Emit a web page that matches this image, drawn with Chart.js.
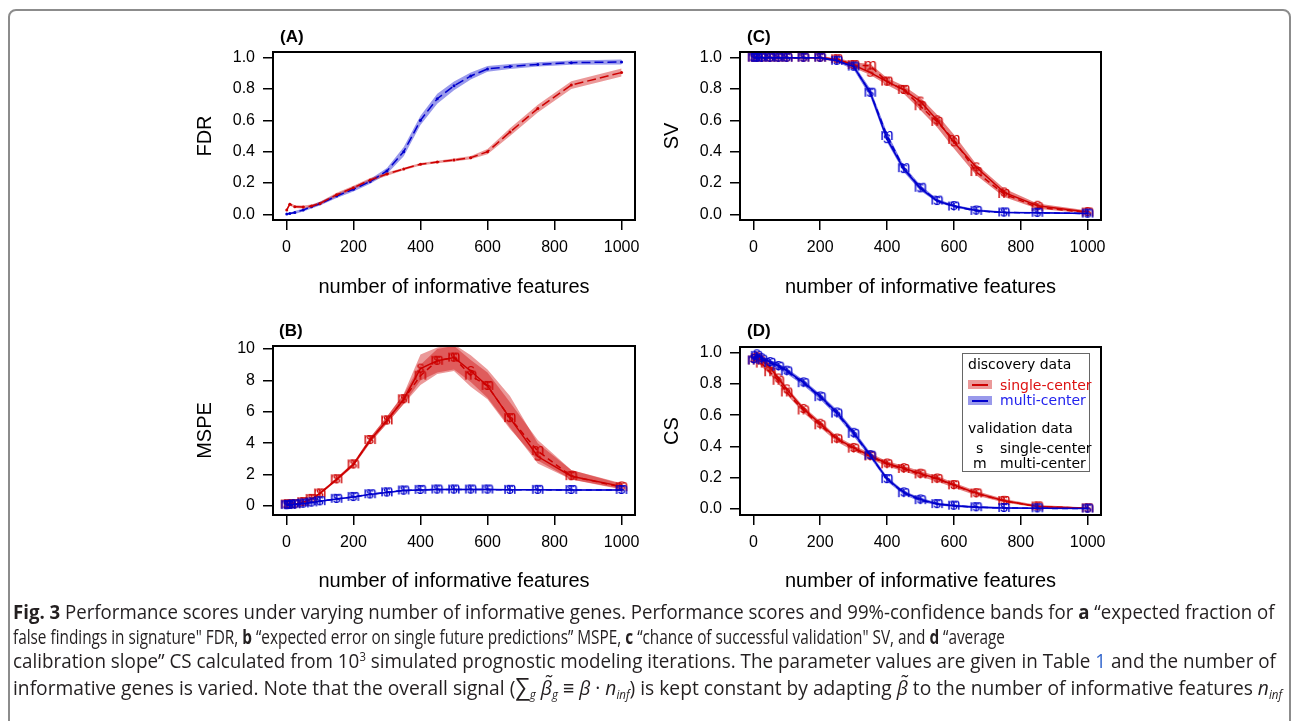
<!DOCTYPE html>
<html><head><meta charset="utf-8">
<script src="https://cdn.jsdelivr.net/npm/chart.js@4.4.0/dist/chart.umd.min.js"></script>
<style>
body{margin:0;width:1292px;height:721px;background:#fff;position:relative;overflow:hidden;font-family:"Liberation Sans",Arial,sans-serif;}
.frame{position:absolute;left:8px;top:9px;width:1283px;height:780px;border:2px solid #8c8c8c;border-radius:8px;box-sizing:border-box;}
.cv{position:absolute;}
.cap{position:absolute;left:13px;white-space:nowrap;font-family:"Open Sans",sans-serif;font-size:20px;line-height:24px;height:24px;color:#231f20;transform-origin:0 50%;}
.cap sup{font-size:12px;line-height:0;vertical-align:7px;}
.cap sub{font-size:12px;line-height:0;vertical-align:-4px;}
.lg{position:absolute;left:962px;top:353px;width:128px;height:119px;border:1px solid #666;box-sizing:border-box;background:#fff;}
.lt{position:absolute;font-family:"DejaVu Sans",sans-serif;font-size:14px;line-height:16px;white-space:nowrap;}
.sw{position:absolute;width:24px;height:9px;}
.sw i{position:absolute;left:4px;top:4px;width:16px;height:1.5px;}
</style></head>
<body>
<div class="frame"></div>
<canvas id="cA" class="cv" width="480" height="295" style="left:170px;top:15px"></canvas>
<canvas id="cC" class="cv" width="460" height="295" style="left:655px;top:15px"></canvas>
<canvas id="cB" class="cv" width="480" height="290" style="left:170px;top:310px"></canvas>
<canvas id="cD" class="cv" width="460" height="290" style="left:655px;top:310px"></canvas>

<div class="lg"></div>
<div class="lt" style="left:968px;top:356px;color:#000">discovery data</div>
<div class="sw" style="left:968px;top:380px;background:rgba(205,0,0,0.4)"><i style="background:#cd0000"></i></div>
<div class="lt" style="left:1000px;top:377px;color:#dd1111">single-center</div>
<div class="sw" style="left:968px;top:396px;background:rgba(0,0,205,0.4)"><i style="background:#0000cd"></i></div>
<div class="lt" style="left:1000px;top:392px;color:#2222ee">multi-center</div>
<div class="lt" style="left:968px;top:420px;color:#000">validation data</div>
<div class="lt" style="left:976px;top:440px;color:#000">s</div>
<div class="lt" style="left:1000px;top:440px;color:#000">single-center</div>
<div class="lt" style="left:973px;top:455px;color:#000">m</div>
<div class="lt" style="left:1000px;top:455px;color:#000">multi-center</div>

<div class="cap" data-w="1262" style="top:600px"><b>Fig. 3</b> Performance scores under varying number of informative genes. Performance scores and 99%-confidence bands for <b>a</b> “expected fraction of</div>
<div class="cap" data-w="992" style="top:625px">false findings in signature" FDR, <b>b</b> “expected error on single future predictions” MSPE, <b>c</b> “chance of successful validation" SV, and <b>d</b> “average</div>
<div class="cap" data-w="1263" style="top:649px">calibration slope” CS calculated from 10<sup>3</sup> simulated prognostic modeling iterations. The parameter values are given in Table <span style="color:#3366cc">1</span> and the number of</div>
<div class="cap" data-w="1269" style="top:674px">informative genes is varied. Note that the overall signal (<span style="font-size:24px">∑</span><sub><i>g</i></sub> <i>β̃</i><sub><i>g</i></sub> ≡ <i>β</i> · <i>n</i><sub><i>inf</i></sub>) is kept constant by adapting <i>β̃</i> to the number of informative features <i>n</i><sub><i>inf</i></sub></div>

<script>
// ---------- data ----------
const nInf = [1,10,25,50,75,100,150,200,250,300,350,400,450,500,550,600,667,750,850,1000];

const xTickValues = [0,200,400,600,800,1000];
const xTickLabels = ['0','200','400','600','800','1000'];
const unitTickValues = [0,0.2,0.4,0.6,0.8,1.0];
const unitTickLabels = ['0.0','0.2','0.4','0.6','0.8','1.0'];
const mspeTickValues = [0,2,4,6,8,10];
const mspeTickLabels = ['0','2','4','6','8','10'];

// (A) FDR
const fdrSingle   = [0.028,0.065,0.049,0.047,0.053,0.070,0.125,0.170,0.220,0.257,0.290,0.320,0.334,0.347,0.362,0.400,0.525,0.675,0.825,0.905];
const fdrSingleLo = [0.018,0.055,0.040,0.038,0.043,0.060,0.112,0.158,0.208,0.247,0.282,0.312,0.326,0.338,0.352,0.383,0.500,0.650,0.800,0.880];
const fdrSingleHi = [0.038,0.075,0.058,0.056,0.063,0.080,0.138,0.182,0.232,0.267,0.298,0.328,0.342,0.356,0.372,0.417,0.550,0.700,0.850,0.930];
const fdrMulti    = [0.003,0.005,0.012,0.028,0.049,0.068,0.117,0.160,0.210,0.277,0.400,0.600,0.738,0.820,0.883,0.928,0.943,0.957,0.968,0.972];
const fdrMultiLo  = [0.000,0.000,0.003,0.018,0.038,0.056,0.104,0.146,0.195,0.258,0.370,0.570,0.705,0.792,0.860,0.910,0.927,0.943,0.954,0.956];
const fdrMultiHi  = [0.009,0.011,0.021,0.038,0.060,0.080,0.130,0.174,0.225,0.296,0.430,0.630,0.770,0.848,0.905,0.946,0.959,0.971,0.982,0.988];

// (B) MSPE
const mspeSingleS   = [0.10,0.10,0.12,0.25,0.45,0.80,1.70,2.65,4.20,5.45,6.80,8.75,9.25,9.45,8.60,7.65,5.60,3.15,1.90,1.25];
const mspeSingleM   = [0.10,0.10,0.12,0.25,0.45,0.80,1.70,2.65,4.20,5.45,6.80,8.30,9.25,9.45,8.30,7.65,5.60,3.50,1.90,1.20];
const mspeSingleSLo = [0.06,0.06,0.08,0.21,0.40,0.74,1.60,2.53,4.03,5.25,6.50,8.00,8.50,8.70,7.90,6.90,5.00,2.70,1.68,1.10];
const mspeSingleSHi = [0.14,0.14,0.16,0.29,0.50,0.86,1.80,2.77,4.37,5.70,7.15,9.65,10.10,10.30,9.60,8.70,7.00,4.00,2.30,1.45];
const mspeSingleMLo = [0.06,0.06,0.08,0.21,0.40,0.74,1.60,2.53,4.03,5.25,6.50,7.70,8.40,8.60,7.60,6.80,4.90,2.90,1.68,1.05];
const mspeSingleMHi = [0.14,0.14,0.16,0.29,0.50,0.86,1.80,2.77,4.37,5.70,7.10,9.00,10.00,10.20,9.30,8.50,6.60,4.20,2.30,1.40];
const mspeMultiS    = [0.05,0.07,0.10,0.15,0.22,0.30,0.45,0.57,0.74,0.86,0.98,1.02,1.05,1.05,1.05,1.05,1.03,1.03,1.02,1.02];
const mspeMultiM    = [0.06,0.08,0.11,0.16,0.23,0.31,0.46,0.58,0.75,0.87,0.99,1.03,1.05,1.05,1.05,1.05,1.03,1.03,1.02,1.02];
const mspeMultiLo   = [0.02,0.04,0.07,0.12,0.18,0.26,0.41,0.53,0.70,0.82,0.94,0.98,1.00,1.00,1.00,1.00,0.98,0.98,0.97,0.97];
const mspeMultiHi   = [0.09,0.11,0.14,0.19,0.26,0.35,0.50,0.62,0.79,0.91,1.03,1.07,1.10,1.10,1.10,1.10,1.08,1.08,1.07,1.07];

// (C) SV
const svSingleS  = [1,1,1,1,1,1,1,1,0.99,0.953,0.904,0.847,0.794,0.72,0.60,0.46,0.30,0.14,0.055,0.015];
const svSingleM  = [1,1,1,1,1,1,1,1,0.99,0.953,0.947,0.847,0.794,0.69,0.59,0.475,0.27,0.13,0.045,0.012];
const svSingleLo = [0.995,0.995,0.995,0.995,0.995,0.995,0.995,0.99,0.975,0.935,0.89,0.825,0.77,0.665,0.555,0.42,0.25,0.11,0.035,0.005];
const svSingleHi = [1,1,1,1,1,1,1,1,1,0.97,0.96,0.87,0.82,0.745,0.635,0.51,0.32,0.165,0.07,0.025];
const svMultiS   = [1,1,1,1,1,1,1,1,0.98,0.943,0.776,0.48,0.289,0.166,0.085,0.053,0.025,0.012,0.01,0.005];
const svMultiM   = [1,1,1,1,1,1,1,1,0.98,0.943,0.776,0.50,0.295,0.17,0.088,0.05,0.022,0.012,0.01,0.005];
const svMultiLo  = [0.995,0.995,0.995,0.995,0.995,0.995,0.995,0.995,0.97,0.925,0.75,0.46,0.27,0.15,0.075,0.043,0.018,0.007,0.005,0.001];
const svMultiHi  = [1,1,1,1,1,1,1,1,0.99,0.96,0.80,0.52,0.31,0.185,0.098,0.062,0.032,0.018,0.015,0.01];

// (D) CS
const csSingleS  = [0.96,0.975,0.95,0.905,0.835,0.765,0.64,0.545,0.45,0.39,0.34,0.29,0.26,0.225,0.194,0.152,0.10,0.051,0.015,0.003];
const csSingleM  = [0.95,0.965,0.93,0.875,0.82,0.745,0.63,0.535,0.445,0.385,0.335,0.285,0.255,0.22,0.19,0.15,0.098,0.05,0.015,0.003];
const csSingleLo = [0.93,0.95,0.91,0.86,0.80,0.73,0.615,0.52,0.43,0.37,0.32,0.27,0.24,0.205,0.175,0.135,0.085,0.04,0.008,0];
const csSingleHi = [0.98,0.99,0.97,0.92,0.85,0.78,0.655,0.56,0.465,0.405,0.355,0.305,0.275,0.24,0.21,0.167,0.113,0.062,0.024,0.008];
const csMultiS   = [0.96,0.99,0.965,0.94,0.915,0.885,0.81,0.72,0.617,0.487,0.344,0.19,0.105,0.06,0.03,0.02,0.01,0.005,0.003,0.001];
const csMultiM   = [0.95,0.98,0.955,0.935,0.91,0.88,0.805,0.715,0.61,0.48,0.34,0.19,0.10,0.055,0.03,0.02,0.01,0.005,0.003,0.001];
const csMultiLo  = [0.935,0.965,0.94,0.92,0.895,0.865,0.79,0.70,0.595,0.465,0.325,0.175,0.09,0.045,0.022,0.012,0.004,0,0,0];
const csMultiHi  = [0.98,1.0,0.98,0.955,0.93,0.9,0.825,0.735,0.635,0.505,0.36,0.205,0.115,0.07,0.04,0.028,0.018,0.012,0.008,0.005];

// ---------- styling ----------
const RED = '#cd0000', BLUE = '#0000cd';
const FONT = '"Liberation Sans", Arial, sans-serif';

function letterImg(ch, color){
  const c = document.createElement('canvas'); c.width = 18; c.height = 18;
  const g = c.getContext('2d');
  g.font = '16px ' + FONT; g.fillStyle = color; g.textAlign = 'center'; g.textBaseline = 'alphabetic';
  g.fillText(ch, 9, 13.2);
  return c;
}
const imgs = {
  rs: letterImg('s', RED), rm: letterImg('m', RED),
  bs: letterImg('s', BLUE), bm: letterImg('m', BLUE)
};

function pts(ys){ return nInf.map((x,i)=>({x:x, y:ys[i]})); }
function band(lo, hi, color){
  return [
    {data:pts(lo), borderColor:'rgba(0,0,0,0)', borderWidth:0, pointRadius:0, fill:false, order:10},
    {data:pts(hi), borderColor:'rgba(0,0,0,0)', borderWidth:0, pointRadius:0, fill:'-1', backgroundColor:color, order:10}
  ];
}
function line(ys, color, dash, img, order){
  return {data:pts(ys), borderColor:color, borderWidth:1.5, borderDash:dash, tension:0, fill:false,
          pointStyle:img, pointRadius:5, order:order};
}
function dotLine(ys, color){
  return {data:pts(ys), borderColor:color, borderWidth:1.5, borderDash:[9,4], tension:0, fill:false,
          pointStyle:'circle', pointRadius:1.5, pointBorderWidth:0, pointBackgroundColor:color, order:1};
}

const boxPlugin = {
  id:'box',
  afterDraw(chart, args, o){
    const {ctx, chartArea:a} = chart;
    ctx.save();
    ctx.strokeStyle = '#000'; ctx.lineWidth = 2;
    ctx.strokeRect(a.left, a.top, a.right - a.left, a.bottom - a.top);
    ctx.font = 'bold 17px ' + FONT; ctx.fillStyle = '#000';
    ctx.textAlign = 'left'; ctx.textBaseline = 'middle';
    ctx.fillText(o.label, a.left + o.lx, a.top + o.ly);
    ctx.restore();
  }
};

function makeChart(id, datasets, p){
  return new Chart(document.getElementById(id), {
    type:'line',
    data:{datasets:datasets},
    plugins:[boxPlugin],
    options:{
      responsive:false, animation:false, devicePixelRatio:1,
      layout:{padding:{left:0, top:p.padTop, right:p.padRight, bottom:0}},
      plugins:{legend:{display:false}, tooltip:{enabled:false},
               box:{label:p.label, lx:p.lx, ly:p.ly}},
      scales:{
        x:{type:'linear', min:-40, max:1040,
           afterBuildTicks:s=>{ s.ticks = xTickValues.map(v=>({value:v})); },
           afterFit:s=>{ s.height = p.xH; },
           ticks:{autoSkip:false, maxRotation:0, padding:8, color:'#000', font:{family:FONT, size:16},
                  callback:(v)=>xTickLabels[xTickValues.indexOf(v)]},
           grid:{drawOnChartArea:false, drawTicks:true, tickLength:10, color:'#000', lineWidth:1.5},
           border:{display:false},
           title:{display:true, text:'number of informative features', color:'#000',
                  font:{family:FONT, size:20}, padding:{top:0, bottom:p.xTitlePad}}
        },
        y:{type:'linear', min:p.yMin, max:p.yMax,
           afterBuildTicks:s=>{ s.ticks = p.yVals.map(v=>({value:v})); },
           afterFit:s=>{ s.width = p.yW; },
           ticks:{autoSkip:false, padding:8, color:'#000', font:{family:FONT, size:16},
                  callback:(v)=>p.yLabels[p.yVals.indexOf(v)]},
           grid:{drawOnChartArea:false, drawTicks:true, tickLength:10, color:'#000', lineWidth:1.5},
           border:{display:false},
           title:{display:true, text:p.yTitle, color:'#000',
                  font:{family:FONT, size:20}, padding:{top:p.yTitlePad, bottom:0}}
        }
      }
    }
  });
}

const REDBAND = 'rgba(205,0,0,0.4)', BLUEBAND = 'rgba(0,0,205,0.4)';
const REDBAND2 = 'rgba(205,0,0,0.5)', BLUEBAND2 = 'rgba(0,0,205,0.5)';

// A
makeChart('cA', [
  ...band(fdrSingleLo, fdrSingleHi, REDBAND),
  ...band(fdrMultiLo, fdrMultiHi, BLUEBAND),
  dotLine(fdrSingle, RED),
  dotLine(fdrMulti, BLUE)
], {padTop:37, padRight:15, xH:90, yW:103, xTitlePad:11, yTitlePad:23.5,
    yMin:-0.036, yMax:1.036, yVals:unitTickValues, yLabels:unitTickLabels, yTitle:'FDR',
    label:'(A)', lx:7, ly:-15});

// C
makeChart('cC', [
  ...band(svSingleLo, svSingleHi, REDBAND2),
  ...band(svMultiLo, svMultiHi, BLUEBAND2),
  line(svSingleS, RED, [], imgs.rs, 2),
  line(svSingleM, RED, [6,4], imgs.rm, 2),
  line(svMultiS, BLUE, [], imgs.bs, 1),
  line(svMultiM, BLUE, [6,4], imgs.bm, 1)
], {padTop:37, padRight:14, xH:90, yW:85, xTitlePad:11, yTitlePad:5,
    yMin:-0.036, yMax:1.036, yVals:unitTickValues, yLabels:unitTickLabels, yTitle:'SV',
    label:'(C)', lx:7, ly:-15});

// B
makeChart('cB', [
  ...band(mspeSingleSLo, mspeSingleSHi, REDBAND),
  ...band(mspeSingleMLo, mspeSingleMHi, REDBAND),
  ...band(mspeMultiLo, mspeMultiHi, BLUEBAND),
  line(mspeSingleS, RED, [], imgs.rs, 2),
  line(mspeSingleM, RED, [6,4], imgs.rm, 2),
  line(mspeMultiS, BLUE, [], imgs.bs, 1),
  line(mspeMultiM, BLUE, [6,4], imgs.bm, 1)
], {padTop:36, padRight:15, xH:85, yW:103, xTitlePad:7, yTitlePad:23.5,
    yMin:-0.573, yMax:10.19, yVals:mspeTickValues, yLabels:mspeTickLabels, yTitle:'MSPE',
    label:'(B)', lx:6, ly:-15});

// D
makeChart('cD', [
  ...band(csSingleLo, csSingleHi, REDBAND2),
  ...band(csMultiLo, csMultiHi, BLUEBAND2),
  line(csSingleS, RED, [], imgs.rs, 2),
  line(csSingleM, RED, [6,4], imgs.rm, 2),
  line(csMultiS, BLUE, [], imgs.bs, 1),
  line(csMultiM, BLUE, [6,4], imgs.bm, 1)
], {padTop:37, padRight:14, xH:85, yW:85, xTitlePad:7, yTitlePad:5,
    yMin:-0.04, yMax:1.0365, yVals:unitTickValues, yLabels:unitTickLabels, yTitle:'CS',
    label:'(D)', lx:7, ly:-16});

// caption fitting (horizontal condensing to the reference line lengths)
function fitCaption(){
  document.querySelectorAll('.cap').forEach(el=>{
    el.style.transform = 'none';
    const w = el.scrollWidth;
    const target = +el.dataset.w;
    el.style.transform = 'scaleX(' + (target / w) + ')';
  });
}
fitCaption();
if (document.fonts && document.fonts.ready) document.fonts.ready.then(fitCaption);
</script>
</body></html>
